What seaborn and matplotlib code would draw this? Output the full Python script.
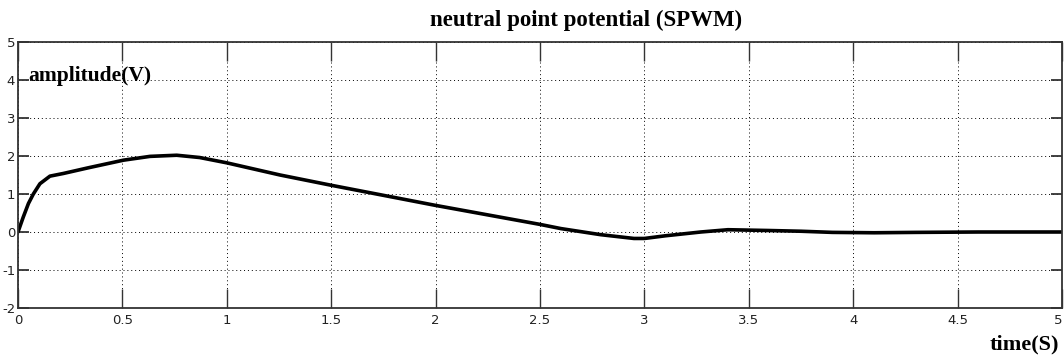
import matplotlib
matplotlib.use("Agg")
import matplotlib.pyplot as plt
import seaborn as sns
import pandas as pd
from matplotlib import font_manager

# ---- data ----
time_s = [0.0, 0.025, 0.05, 0.0735, 0.105, 0.153, 0.217, 0.337, 0.505, 0.632,
          0.76, 0.87, 1.0, 1.255, 1.5, 2.0, 2.5, 2.6, 2.79, 2.95, 3.0, 3.1, 3.27,
          3.4, 3.59, 3.75, 3.9, 4.1, 4.3, 4.6, 5.0]
amplitude_v = [0.0, 0.39, 0.75, 1.0, 1.27, 1.47, 1.54, 1.69, 1.89, 1.99,
               2.02, 1.96, 1.82, 1.50, 1.23, 0.70, 0.20, 0.09, -0.07, -0.17, -0.17, -0.10, 0.0,
               0.06, 0.04, 0.02, -0.01, -0.02, -0.01, 0.0, 0.0]
x_ticks = [0, 0.5, 1, 1.5, 2, 2.5, 3, 3.5, 4, 4.5, 5]
x_tick_labels = ["0", "0.5", "1", "1.5", "2", "2.5", "3", "3.5", "4", "4.5", "5"]
y_ticks = [-2, -1, 0, 1, 2, 3, 4, 5]
y_tick_labels = ["-2", "-1", "0", "1", "2", "3", "4", "5"]
title_text = "neutral point potential (SPWM)"
ylabel_text = "amplitude(V)"
xlabel_text = "time(S)"

df = pd.DataFrame({"t": time_s, "v": amplitude_v})

sns.set_style("white")
installed = {f.name for f in font_manager.fontManager.ttflist}
tick_family = "Liberation Sans Narrow" if "Liberation Sans Narrow" in installed else "DejaVu Sans"
serif_family = ["Liberation Serif", "DejaVu Serif"]

fig = plt.figure(figsize=(10.64, 3.63), dpi=100)
ax = fig.add_axes([18 / 1064, 55 / 363, 1044 / 1064, 266 / 363])

sns.lineplot(data=df, x="t", y="v", ax=ax, color="black", linewidth=2.6)

ax.set_xlim(0, 5)
ax.set_ylim(-2, 5)
ax.set_xticks(x_ticks)
ax.set_xticklabels(x_tick_labels, family=tick_family, fontsize=9.5, color="#222222")
ax.get_xticklabels()[-1].set_horizontalalignment("right")
ax.set_yticks(y_ticks)
ax.set_yticklabels(y_tick_labels, family=tick_family, fontsize=9.5, color="#222222")
ax.set_xlabel("")
ax.set_ylabel("")

ax.grid(True, color="black", linestyle=(0, (1, 3)), linewidth=0.7)
for s in ax.spines.values():
    s.set_color("#333333")
    s.set_linewidth(1.3)
    s.set_visible(True)

ax.tick_params(axis="x", direction="in", length=14, width=1.0, color="#333333",
               top=True, bottom=True, pad=4)
ax.tick_params(axis="y", direction="in", length=8, width=1.3, color="#333333",
               left=True, right=True, pad=2)

fig.text(586 / 1064, 1 - 20 / 363, title_text, ha="center", va="center",
         family=serif_family, fontweight="bold", fontsize=16.5, color="black")
ax.text((28 - 18) / 1044, (308 - 76) / 266, ylabel_text, transform=ax.transAxes,
        ha="left", va="center", family=serif_family, fontweight="bold", fontsize=15.5,
        color="black")
fig.text(1059 / 1064, 1 - 344 / 363, xlabel_text, ha="right", va="center",
         family=serif_family, fontweight="bold", fontsize=16, color="black")

fig.savefig("out.png", dpi=100)
